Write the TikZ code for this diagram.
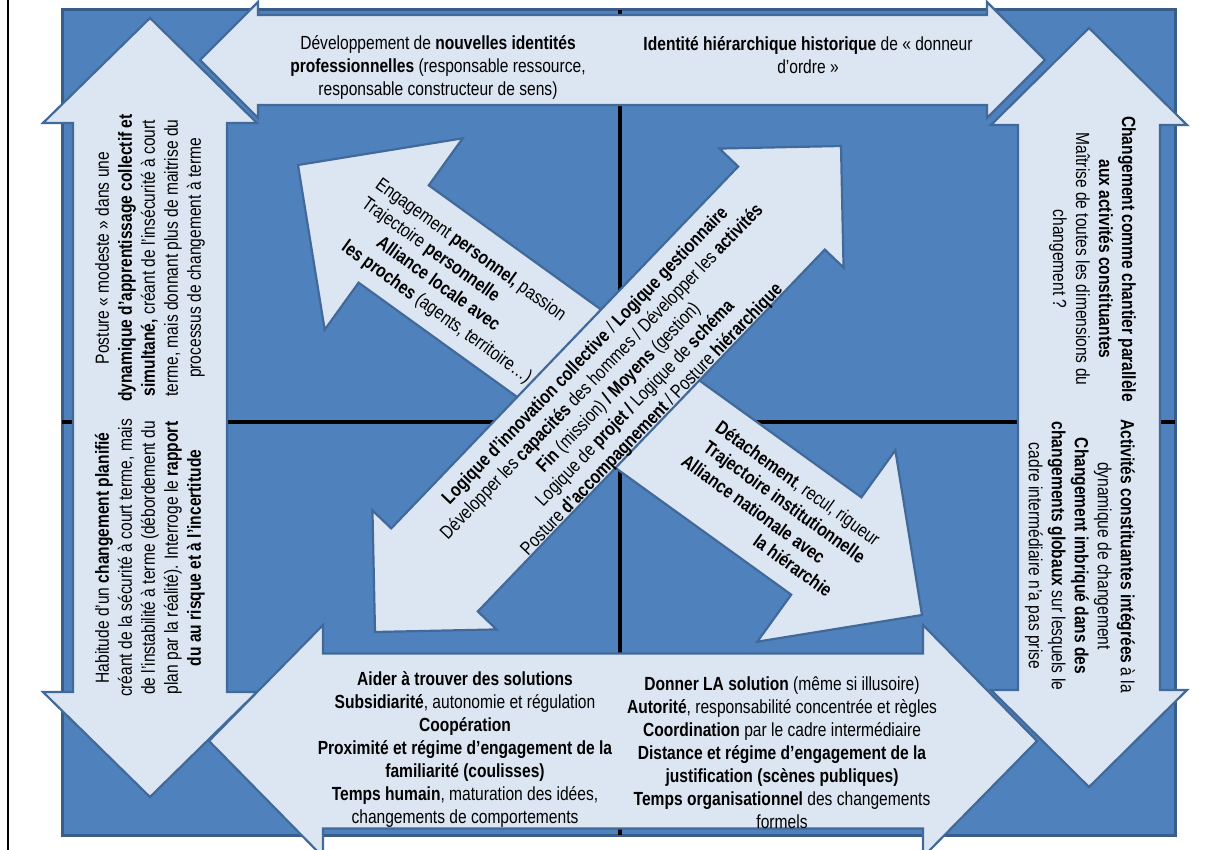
\documentclass[tikz,border=0pt]{standalone}
\usepackage{fontspec}
\setmainfont{Liberation Sans}[FakeStretch=0.82]
\usetikzlibrary{calc}
\definecolor{bgblue}{HTML}{4F81BD}
\definecolor{bgedge}{HTML}{385D8A}
\definecolor{arrfill}{HTML}{DCE6F2}
\definecolor{arredge}{HTML}{41699A}
\tikzset{
  arrowshape/.style={fill=arrfill, draw=arredge, line width=2.2pt, line join=miter},
  txt/.style={font=\fontsize{19}{23}\selectfont, align=center, inner sep=0pt, text=black},
  ln/.style={font=\fontsize{19}{23}\selectfont, inner sep=0pt, anchor=west, text height=13.5pt, text depth=4pt, text=black},
  crossline/.style={line width=4.5pt, draw=black},
}
% #1 P, #2 Q, #3 body half width, #4 head half width, #5 head length
\newcommand\dblarrow[5]{%
  \coordinate (bp) at ($(#1)!#5!(#2)$);
  \coordinate (bq) at ($(#2)!#5!(#1)$);
  \filldraw[arrowshape] (#1)
    -- ($(bp)!#4!90:(#2)$) -- ($(bp)!#3!90:(#2)$)
    -- ($(bq)!#3!-90:(#1)$) -- ($(bq)!#4!-90:(#1)$)
    -- (#2)
    -- ($(bq)!#4!90:(#1)$) -- ($(bq)!#3!90:(#1)$)
    -- ($(bp)!#3!-90:(#2)$) -- ($(bp)!#4!-90:(#2)$)
    -- cycle;
}
\begin{document}
\begin{tikzpicture}[x=1pt,y=-1pt]
\useasboundingbox (0,0) rectangle (1223,850);
\fill[white] (0,0) rectangle (1223,850);
\draw[line width=2pt] (8,0) -- (8,850);
% background square and cross
\filldraw[fill=bgblue, draw=bgedge, line width=3pt] (62,10) rectangle (1175,835);
\draw[crossline] (620,10) -- (620,835);
\draw[crossline] (62,422) -- (1175,422);
% tips
\coordinate (LT) at (150,18);   \coordinate (LB) at (150,797);
\coordinate (RT) at (1089,28);  \coordinate (RB) at (1089,787);
\coordinate (TL) at (200,60);   \coordinate (TR) at (1045,60);
\coordinate (BL) at (209,741);  \coordinate (BR) at (1037,741);
\coordinate (A1) at (375,632);  \coordinate (A2) at (841,146);
\coordinate (C1) at (298,165);  \coordinate (C2) at (922,615);
% arrows
\dblarrow{LT}{LB}{77pt}{107pt}{105pt}
\dblarrow{RT}{RB}{71pt}{98pt}{97pt}
\dblarrow{TL}{TR}{45pt}{58pt}{58pt}
\dblarrow{BL}{BR}{87.5pt}{116pt}{114pt}
\dblarrow{C1}{C2}{60pt}{118pt}{118pt}
\dblarrow{A1}{A2}{60pt}{86pt}{86pt}
% top texts
\node[txt] (t1) at (438,67) {Développement de \textbf{nouvelles identités}\\ \textbf{professionnelles} (responsable ressource,\\ responsable constructeur de sens)};
\node[txt] (t2) at (808,55.5) {\textbf{Identité hiérarchique historique} de « donneur\\ d’ordre »};
% left texts
\node[txt, rotate=90] (l1) at (150,258) {Posture « modeste » dans une\\ \textbf{dynamique d'apprentissage collectif et}\\ \textbf{simultané,} créant de l'insécurité à court\\ terme, mais donnant plus de maitrise du\\ processus de changement à terme};
\node[txt, rotate=90] (l2) at (150,558) {Habitude d'un \textbf{changement planifié}\\ créant de la sécurité à court terme, mais\\ de l'instabilité à terme (débordement du\\ plan par la réalité). Interroge le \textbf{rapport}\\ \textbf{du au risque et à l'incertitude}};
% right texts
\node[txt, rotate=-90] (r1) at (1092.5,259) {\textbf{Changement comme chantier parallèle}\\ \textbf{aux activités constituantes}\\ Maîtrise de toutes les dimensions du\\ changement ?};
\node[txt, rotate=-90] (r2) at (1080,556) {\textbf{Activités constituantes intégrées} à la\\ dynamique de changement\\ \textbf{Changement imbriqué dans des}\\ \textbf{changements globaux} sur lesquels le\\ cadre intermédiaire n’a pas prise};
% bottom texts
\node[txt] (b1) at (465,749) {\textbf{Aider à trouver des solutions}\\ \textbf{Subsidiarité}, autonomie et régulation\\ \textbf{Coopération}\\ \textbf{Proximité et régime d’engagement de la}\\ \textbf{familiarité (coulisses)}\\ \textbf{Temps humain}, maturation des idées,\\ changements de comportements};
\node[txt] (b2) at (782,752.5) {\textbf{Donner LA solution} (même si illusoire)\\ \textbf{Autorité}, responsabilité concentrée et règles\\ \textbf{Coordination} par le cadre intermédiaire\\ \textbf{Distance et régime d’engagement de la}\\ \textbf{justification (scènes publiques)}\\ \textbf{Temps organisationnel} des changements\\ formels};
% central diagonal text
\node[txt, rotate=46.2] (ctr) at (619,388) {\textbf{Logique d’innovation collective} / \textbf{Logique gestionnaire}\\ Développer les \textbf{capacités} des hommes / Développer les \textbf{activités}\\ \textbf{Fin} (mission) \textbf{/ Moyens} (gestion)\\ Logique de \textbf{projet /} Logique de \textbf{schéma}\\ Posture \textbf{d’accompagnement} / Posture \textbf{hiérarchique}};
% upper-left and lower-right diagonal texts
\begin{scope}[rotate=-35.8]
\node[ln, rotate=-35.8] (ul1) at (413,-72) {Engagement \textbf{personnel,} passion};
\node[ln, rotate=-35.8] (ul2) at (413,-48.5) {Trajectoire \textbf{personnelle}};
\node[ln, rotate=-35.8] (ul3) at (448,-25) {\textbf{Alliance locale avec}};
\node[ln, rotate=-35.8] (ul4) at (422,-1.5) {\textbf{les proches} (agents, territoire…)};
\node[ln, rotate=-35.8] (lr1) at (831,-73) {\textbf{Détachement}, recul, rigueur};
\node[ln, rotate=-35.8] (lr2) at (833,-50) {\textbf{Trajectoire institutionnelle}};
\node[ln, rotate=-35.8] (lr3) at (823,-26) {\textbf{Alliance nationale avec}};
\node[ln, rotate=-35.8] (lr4) at (928,-3) {\textbf{la hiérarchie}};
\end{scope}
\end{tikzpicture}
\end{document}
